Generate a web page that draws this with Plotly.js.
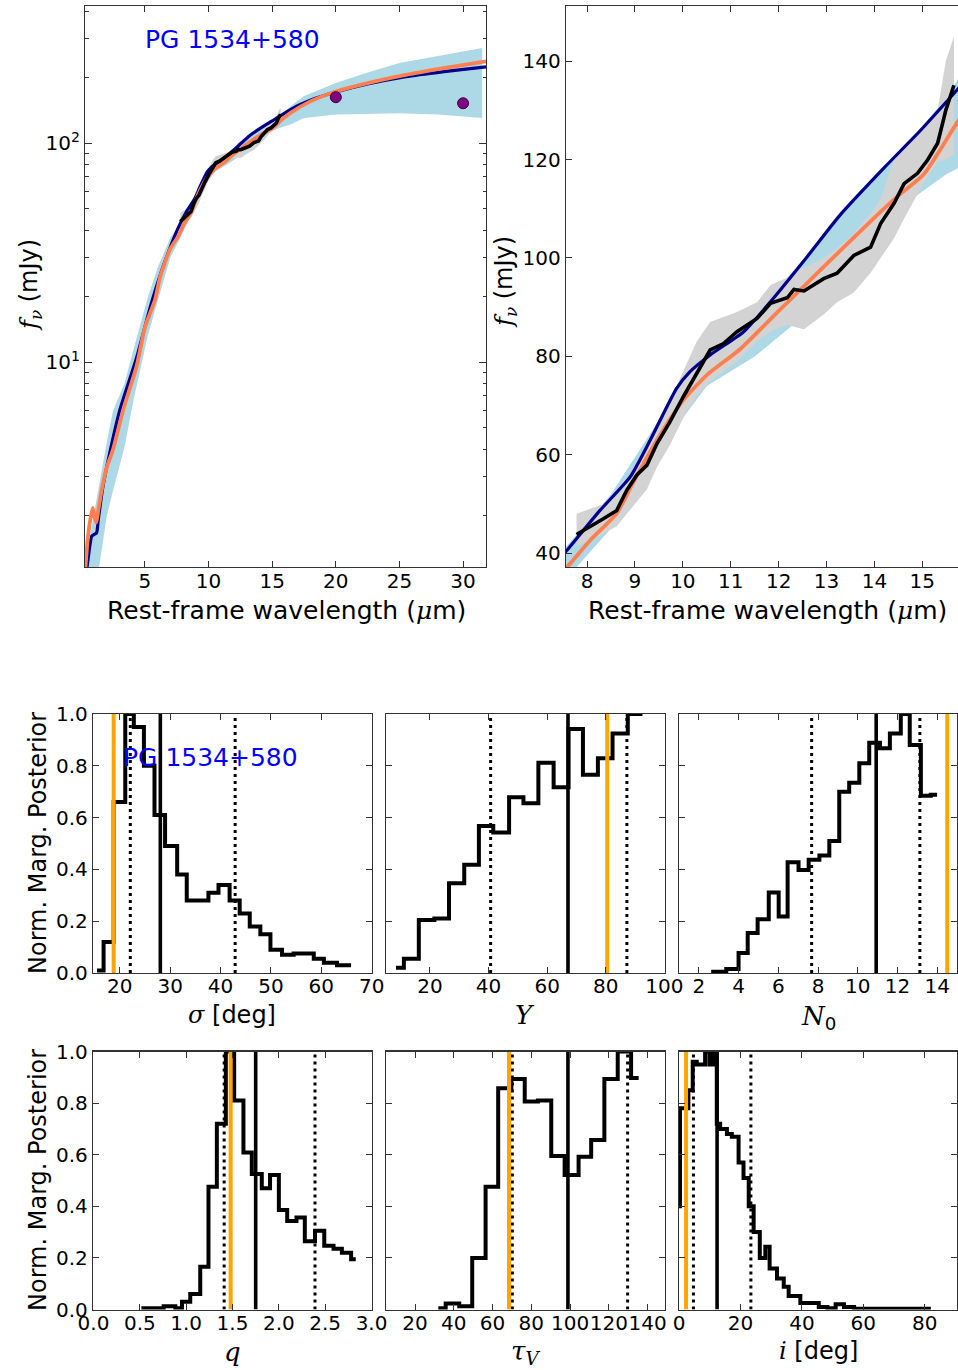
<!DOCTYPE html>
<html><head><meta charset="utf-8">
<script src="https://cdn.plot.ly/plotly-3.0.1.min.js"></script>
<style>html,body{margin:0;padding:0;overflow:hidden;background:#fff}#plot{width:1000px;height:1370px}</style>
</head><body><div id="plot"></div>
<script>
// ---------------- SED data (top panels) ----------------
const orangeX = [0.3, 0.5, 0.7, 0.9, 1.05, 1.18, 1.33, 1.6, 2.0, 2.5, 3.3, 4.35, 5.0, 5.8, 6.2, 7.0, 7.58, 8.06, 8.62, 8.97, 9.46, 10.01, 10.5, 11.2, 12.03, 12.94, 13.98, 14.48, 15.03, 15.76, 16.5, 18.0, 20.0, 22.5, 25.5, 28.5, 31.8];
const orangeY = [1.1, 1.55, 1.9, 2.16, 1.95, 1.85, 2.1, 2.6, 3.3, 4.0, 6.07, 9.6, 14.4, 19.3, 24.6, 33.0, 37.2, 42.6, 48.1, 54.5, 63.0, 71.1, 76.2, 81.5, 89.5, 98.2, 108.0, 112.5, 117.0, 128.0, 138, 155, 172, 188, 205, 220, 236];
const navyX = [0.4, 0.6, 0.81, 1.0, 1.2, 1.33, 1.7, 2.3, 3.04, 4.35, 5.5, 6.5, 7.58, 8.27, 8.90, 9.32, 9.87, 10.15, 10.57, 11.27, 11.83, 12.6, 13.29, 14.2, 14.97, 15.76, 17.0, 18.0, 20.0, 22.5, 25.5, 28.5, 31.8];
const navyY = [1.1, 1.35, 1.6, 1.63, 1.66, 1.9, 2.7, 4.0, 6.07, 10.5, 18.5, 28, 40.6, 48.7, 55.5, 63.0, 73.5, 76.9, 80.3, 85.0, 91.1, 100.3, 108.8, 118.3, 126.0, 134.5, 148, 157, 171, 186, 201, 212, 223];
const bandX  = [0.3, 0.6, 1.0, 1.4, 2.0, 2.5, 3.4, 4.1, 5.2, 6.0, 7.0, 7.58, 8.5, 9.5, 10.5, 11.5, 12.5, 13.5, 14.5, 15.5, 16.5, 17.5, 20, 22.5, 25, 28, 31.5];
const bandHi = [1.2, 1.5, 2.0, 2.8, 4.3, 6.0, 8.0, 11.4, 19.5, 27, 37, 41.5, 52, 67, 80.5, 88.5, 99.5, 111, 121, 132.5, 148, 164, 188, 210, 232, 250, 272];
const bandLo = [0.5, 0.7, 0.9, 1.16, 1.98, 2.6, 4.1, 6.7, 13.0, 19, 30, 35, 45, 61, 74, 80, 88, 98, 110, 117, 122, 130, 135, 136, 137, 135, 130];
const specX  = [7.78, 8.06, 8.34, 8.62, 8.83, 9.04, 9.25, 9.46, 9.73, 10.01, 10.29, 10.57, 10.85, 11.13, 11.55, 11.83, 12.18, 12.32, 12.53, 12.94, 13.22, 13.57, 13.92, 14.13, 14.41, 14.62, 14.9, 15.11, 15.32, 15.49, 15.66];
const specY  = [43.8, 45.3, 47.0, 48.7, 52.8, 55.9, 57.9, 62.3, 66.7, 71.8, 76.5, 81.3, 82.6, 85.0, 87.7, 90.8, 91.9, 93.6, 93.3, 95.8, 96.9, 100.5, 102.2, 107.0, 111.1, 115.1, 117.2, 119.9, 123.3, 130.0, 135.1];
const specHi = [48, 49, 50, 51.5, 55, 58.5, 61, 65, 71, 77, 83, 87, 88, 89, 91, 94.5, 96, 97.5, 98, 100, 102, 105, 109, 112, 120, 123, 125.5, 127, 130, 140, 145];
const specLo = [41.5, 42.5, 44, 45.5, 48, 50.5, 53, 57.5, 62, 67.5, 72, 75, 77, 79, 83, 85, 86.5, 86, 85.5, 88.5, 91, 93, 97, 100, 104, 108, 113, 116.5, 119.5, 120, 121];
const photX = [20, 30];
const photY = [162, 152];
const logTicks = [10, 100];
const logTickText = ['10<sup>1</sup>', '10<sup>2</sup>'];
const logMinor = [2,3,4,5,6,7,8,9,20,30,40,50,60,70,80,90,200,300,400];
const wlTicksA = [5, 10, 15, 20, 25, 30];
const wlTicksB = [8, 9, 10, 11, 12, 13, 14, 15];
const fluxTicksB = [40, 60, 80, 100, 120, 140];

// ---------------- Posterior histograms ----------------
const sigmaEdges = [15.5, 16.8, 18.8, 21.1, 22.8, 24.8, 26.9, 29.0, 31.4, 33.3, 37.6, 39.6, 41.8, 43.8, 45.8, 47.9, 49.9, 52.2, 54.5, 58.5, 60.5, 63.1, 65.9];
const sigmaH = [0.01, 0.12, 0.66, 1.0, 0.95, 0.80, 0.61, 0.49, 0.38, 0.28, 0.31, 0.34, 0.28, 0.23, 0.18, 0.15, 0.09, 0.07, 0.075, 0.055, 0.04, 0.03];
const sigmaLines = {lo: 22.1, med: 28.06, hi: 42.9, best: 18.8};
const YEdges = [8.4, 11.1, 16.2, 21.5, 26.5, 31.7, 36.7, 41.6, 47.0, 51.9, 57.0, 62.2, 67.3, 72.2, 77.3, 82.3, 87.5, 92.5];
const YH = [0.02, 0.055, 0.205, 0.21, 0.347, 0.418, 0.568, 0.542, 0.679, 0.655, 0.812, 0.717, 0.942, 0.765, 0.829, 0.925, 1.0];
const YLines = {lo: 40.7, med: 67.1, hi: 87.2, best: 80.5};
const N0Edges = [2.62, 3.38, 4.0, 4.46, 4.96, 5.52, 6.02, 6.47, 7.02, 7.53, 8.07, 8.57, 9.07, 9.57, 10.08, 10.58, 11.12, 11.62, 12.17, 12.62, 13.18, 13.68, 14.0];
const N0H = [0.005, 0.015, 0.077, 0.154, 0.208, 0.311, 0.218, 0.428, 0.398, 0.437, 0.454, 0.51, 0.70, 0.735, 0.81, 0.889, 0.868, 0.925, 1.0, 0.88, 0.684, 0.688];
const N0Lines = {lo: 7.68, med: 10.93, hi: 13.13, best: 14.51};
const qEdges = [0.517, 0.757, 0.883, 0.955, 1.044, 1.152, 1.241, 1.331, 1.428, 1.518, 1.618, 1.708, 1.816, 1.905, 2.0, 2.09, 2.19, 2.28, 2.39, 2.49, 2.59, 2.68, 2.78, 2.83];
const qH = [0.005, 0.013, 0.005, 0.03, 0.06, 0.166, 0.476, 0.72, 1.0, 0.81, 0.609, 0.525, 0.47, 0.521, 0.386, 0.343, 0.357, 0.265, 0.305, 0.247, 0.235, 0.22, 0.195];
const qLines = {lo: 1.41, med: 1.75, hi: 2.39, best: 1.48};
const tauEdges = [32.0, 35.8, 42.8, 49.5, 56.4, 62.9, 69.7, 76.6, 83.4, 90.3, 97.2, 104.4, 110.9, 117.7, 124.6, 131.5, 135.4];
const tauH = [0.005, 0.023, 0.013, 0.2, 0.476, 0.858, 0.893, 0.806, 0.81, 0.595, 0.521, 0.592, 0.657, 0.893, 1.0, 0.897];
const tauLines = {lo: 70.2, med: 98.9, hi: 129.7, best: 68.5};
const incEdges = [-1.3, 0.33, 3.05, 4.47, 5.78, 8.5, 9.9, 11.2, 12.3, 13.4, 15.6, 17.2, 19.4, 21.0, 22.7, 24.3, 26.3, 28.1, 29.5, 31.9, 34.1, 35.7, 39.5, 45.5, 48.3, 51.0, 53.7, 57.0, 82.0];
const incH = [0.40, 0.78, 0.85, 0.96, 0.95, 1.0, 0.95, 1.0, 0.72, 0.70, 0.68, 0.67, 0.57, 0.51, 0.40, 0.30, 0.20, 0.243, 0.159, 0.12, 0.088, 0.052, 0.025, 0.01, 0.005, 0.02, 0.01, 0.003];
const incLines = {lo: 4.7, med: 12.4, hi: 23.4, best: 2.3};
const postTicks = [0, 0.2, 0.4, 0.6, 0.8, 1.0];
const postTickText = ['0.0', '0.2', '0.4', '0.6', '0.8', '1.0'];

// ---------------- layout helpers ----------------
const W = 1000, H = 1370;
const FONT = 'DejaVu Sans';
const SERIF = 'DejaVu Serif';
function dx(a, b) { return [a / W, b / W]; }
function dy(top, bot) { return [1 - bot / H, 1 - top / H]; }
function baseAxis(extra) {
  return Object.assign({
    showline: true, linecolor: '#333', linewidth: 1.2, mirror: 'allticks',
    ticks: 'inside', ticklen: 6, tickwidth: 1, tickcolor: '#333', tickangle: 0,
    showgrid: false, zeroline: false, fixedrange: true,
    tickfont: {family: FONT, size: 20, color: '#000'}
  }, extra);
}

const traces = [];
function sedTraces(xa, ya) {
  traces.push({x: bandX.concat(bandX.slice().reverse()), y: bandHi.concat(bandLo.slice().reverse()),
    fill: 'toself', fillcolor: '#add8e6', line: {width: 0, color: '#add8e6'}, mode: 'lines', xaxis: xa, yaxis: ya, hoverinfo: 'skip'});
  traces.push({x: specX.concat(specX.slice().reverse()), y: specHi.concat(specLo.slice().reverse()),
    fill: 'toself', fillcolor: '#d3d3d3', line: {width: 0, color: '#d3d3d3'}, mode: 'lines', xaxis: xa, yaxis: ya, hoverinfo: 'skip'});
  traces.push({x: navyX, y: navyY, mode: 'lines', line: {color: '#00008b', width: 3.2, shape: 'spline', smoothing: 0.6}, xaxis: xa, yaxis: ya});
  traces.push({x: orangeX, y: orangeY, mode: 'lines', line: {color: '#ff7f50', width: 3.8, shape: 'spline', smoothing: 0.6}, xaxis: xa, yaxis: ya});
  traces.push({x: specX, y: specY, mode: 'lines', line: {color: '#000', width: 3.6}, xaxis: xa, yaxis: ya});
  traces.push({x: photX, y: photY, mode: 'markers', marker: {color: '#800080', size: 11, line: {color: '#3a003a', width: 1}}, xaxis: xa, yaxis: ya, cliponaxis: true});
}
sedTraces('x', 'y');
sedTraces('x2', 'y2');

function histTraces(edges, h, lines, xa, ya) {
  traces.push({x: edges, y: h.concat([h[h.length - 1]]), mode: 'lines', line: {shape: 'hv', color: '#000', width: 4}, xaxis: xa, yaxis: ya});
  [lines.lo, lines.hi].forEach(v => traces.push({x: [v, v], y: [0, 1], mode: 'lines', line: {color: '#000', width: 3, dash: '3px,4px'}, xaxis: xa, yaxis: ya}));
  traces.push({x: [lines.med, lines.med], y: [0, 1], mode: 'lines', line: {color: '#000', width: 3.6}, xaxis: xa, yaxis: ya});
  traces.push({x: [lines.best, lines.best], y: [0, 1], mode: 'lines', line: {color: '#ffa500', width: 4}, xaxis: xa, yaxis: ya});
}
histTraces(sigmaEdges, sigmaH, sigmaLines, 'x3', 'y3');
histTraces(YEdges, YH, YLines, 'x4', 'y4');
histTraces(N0Edges, N0H, N0Lines, 'x5', 'y5');
histTraces(qEdges, qH, qLines, 'x6', 'y6');
histTraces(tauEdges, tauH, tauLines, 'x7', 'y7');
histTraces(incEdges, incH, incLines, 'x8', 'y8');

const rowTop = [714, 1051.5], rowBot = [973, 1309.5];
const cols = [[93, 372], [386, 665], [679, 957]];
const histX = [
  {range: [14.7, 70.05], tickvals: [20, 30, 40, 50, 60, 70]},
  {range: [5, 100.2], tickvals: [20, 40, 60, 80, 100]},
  {range: [1, 15], tickvals: [2, 4, 6, 8, 10, 12, 14]},
  {range: [-0.005, 3.005], tickvals: [0, 0.5, 1.0, 1.5, 2.0, 2.5, 3.0], ticktext: ['0.0','0.5','1.0','1.5','2.0','2.5','3.0']},
  {range: [5, 149], tickvals: [20, 40, 60, 80, 100, 120, 140]},
  {range: [0, 90.5], tickvals: [0, 20, 40, 60, 80]}
];

const layout = {
  width: W, height: H, margin: {l: 0, r: 0, t: 0, b: 0, pad: 0},
  paper_bgcolor: '#fff', plot_bgcolor: '#fff', showlegend: false,
  font: {family: FONT, color: '#000'},
  xaxis: baseAxis({domain: dx(85, 486), range: [0.29, 31.8], tickmode: 'array', tickvals: wlTicksA, anchor: 'y', ticklabelstandoff: -4}),
  yaxis: baseAxis({domain: dy(6, 567), type: 'log', range: [0.064, 2.626], tickmode: 'array', tickvals: logTicks, ticktext: logTickText, anchor: 'x',
    ticklen: 7, minor: {tickmode: 'array', tickvals: logMinor, ticks: 'inside', ticklen: 3.5, tickcolor: '#333'}}),
  xaxis2: baseAxis({domain: dx(566, 975), range: [7.56, 16.1], tickmode: 'array', tickvals: wlTicksB, anchor: 'y2', ticklabelstandoff: -4}),
  yaxis2: baseAxis({domain: dy(6, 567), range: [37.2, 151.2], tickmode: 'array', tickvals: fluxTicksB, anchor: 'x2'}),
  annotations: []
};
for (let r = 0; r < 2; r++) {
  for (let c = 0; c < 3; c++) {
    const n = 3 + r * 3 + c;
    const hx = histX[r * 3 + c];
    layout['xaxis' + n] = baseAxis(Object.assign({domain: dx(cols[c][0], cols[c][1]), anchor: 'y' + n, tickmode: 'array', ticklabelstandoff: -5}, hx));
    layout['yaxis' + n] = baseAxis({domain: dy(rowTop[r], rowBot[r]), anchor: 'x' + n, range: [0, 1.0], tickmode: 'array',
      tickvals: postTicks, ticktext: postTickText, showticklabels: c === 0});
  }
}
function ann(text, px, py, size, opts) {
  layout.annotations.push(Object.assign({text: text, x: px / W, y: 1 - py / H, xref: 'paper', yref: 'paper',
    xanchor: 'center', yanchor: 'middle', showarrow: false, font: {family: FONT, size: size, color: '#000'}}, opts || {}));
}
const sf = s => "<span style='font-family:" + SERIF + "'><i>" + s + "</i></span>";
ann('PG 1534+580', 232, 40, 25, {font: {family: FONT, size: 25, color: '#0000ff'}});
ann('PG 1534+580', 210, 757, 25, {font: {family: FONT, size: 25, color: '#0000ff'}});
ann('Rest-frame wavelength (' + sf('μ') + 'm)', 286, 610, 25);
ann('Rest-frame wavelength (' + sf('μ') + 'm)', 767, 610, 25);
ann(sf('f') + '<sub>' + sf('ν') + '</sub> (mJy)', 30, 285, 24, {textangle: -90});
ann(sf('f') + '<sub>' + sf('ν') + '</sub> (mJy)', 505, 282, 24, {textangle: -90});
ann('Norm. Marg. Posterior', 38, 843, 24, {textangle: -90});
ann('Norm. Marg. Posterior', 38, 1180, 24, {textangle: -90});
ann(sf('σ') + ' [deg]', 232, 1015, 24);
ann(sf('Y'), 525, 1015, 26);
ann(sf('N') + '<sub>0</sub>', 818, 1017, 26);
ann(sf('q'), 232, 1352, 26);
ann(sf('τ') + '<sub>' + sf('V') + '</sub>', 525, 1352, 26);
ann(sf('i') + ' [deg]', 818, 1351, 24);

Plotly.newPlot('plot', traces, layout, {displayModeBar: false, staticPlot: true});
</script></body></html>
